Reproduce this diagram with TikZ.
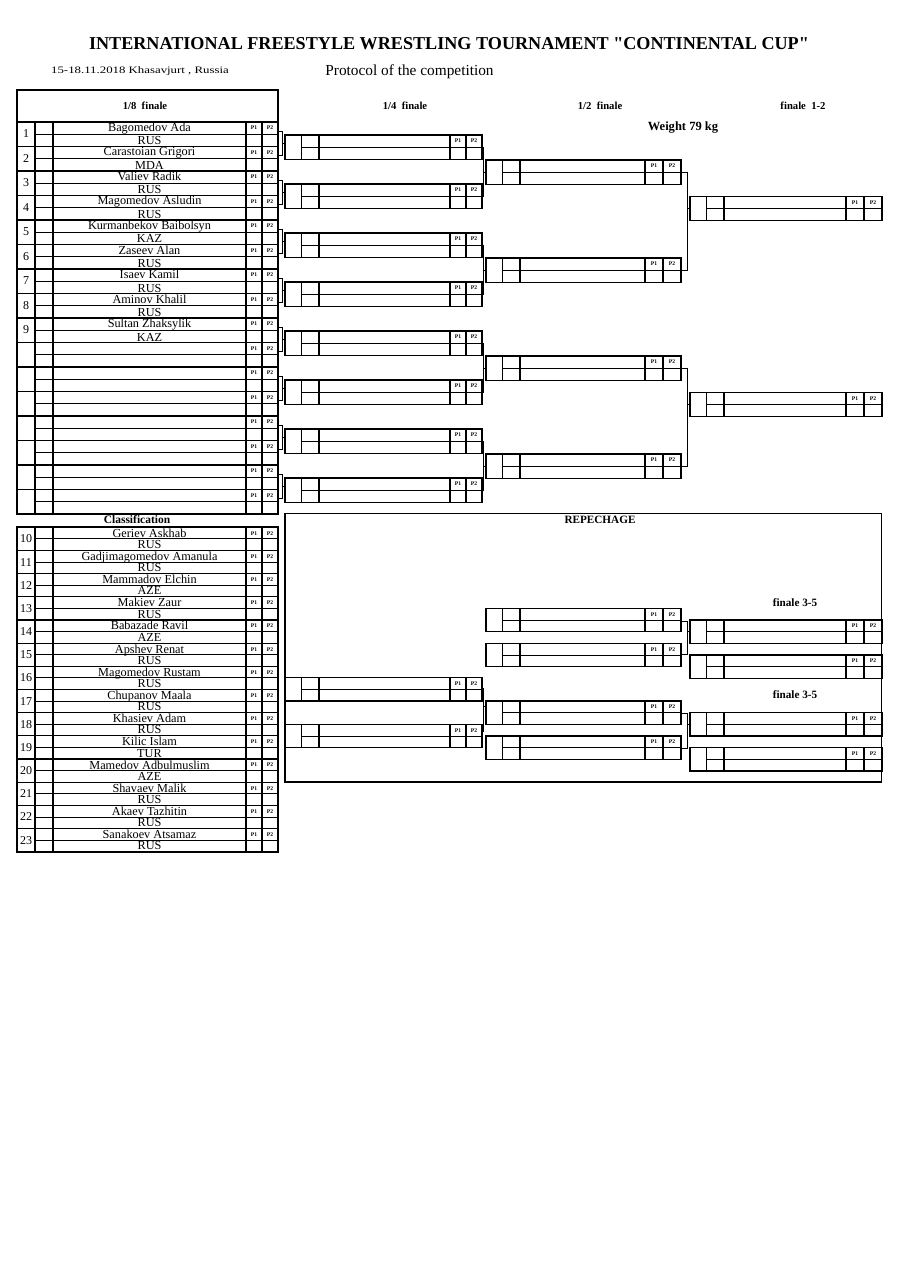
\documentclass[tikz,border=0pt]{standalone}
\usepackage{fontspec}
\setmainfont{Liberation Serif}
\newfontfamily\plainserif{Liberation Serif}
\usetikzlibrary{calc}
\newcommand\matchbx[6]{%
  \pgfmathsetmacro\mbA{#2+16.5}%
  \pgfmathsetmacro\mbB{#2+34}%
  \pgfmathsetmacro\mbC{#4-2*#6}%
  \pgfmathsetmacro\mbD{#4-#6}%
  \pgfmathsetmacro\mbY{#3+#5/2}%
  \pgfmathsetmacro\mbE{#3+#5}%
  \pgfmathsetmacro\mbPa{(\mbC+\mbD)/2}%
  \pgfmathsetmacro\mbPb{(\mbD+#4)/2}%
  \pgfmathsetmacro\mbPy{#3+6}%
  \draw[box] (#2,#3) rectangle (#4,\mbE);
  \draw[box] (\mbA,#3) -- (\mbA,\mbE) (\mbB,#3) -- (\mbB,\mbE) (\mbC,#3) -- (\mbC,\mbE) (\mbD,#3) -- (\mbD,\mbE);
  \draw[thinline] (\mbA,\mbY) -- (#4,\mbY);
  \node[plab] (#1-p1) at (\mbPa,\mbPy) {P1};
  \node[plab] (#1-p2) at (\mbPb,\mbPy) {P2};
  \coordinate (#1-in) at (#2,\mbY);
  \coordinate (#1-out) at (#4,\mbY);
}
\newcommand\brk[4]{%
  \coordinate (bx) at (#3,0);
  \draw[conn] (#1) -- (#1 -| bx) -- (#2 -| bx) -- (#2);
  \draw[conn] (#4 -| bx) -- (#4);
}
\begin{document}
\begin{tikzpicture}[x=0.75pt,y=-0.75pt,
  thinline/.style={line width=0.65pt},
  box/.style={line width=0.9pt},
  thickbox/.style={line width=1.4pt},
  conn/.style={line width=0.7pt},
  plab/.style={font=\fontsize{4.2}{5}\selectfont\bfseries, inner sep=0pt},
  nm/.style={font=\fontsize{9.2}{10}\selectfont, anchor=base, inner sep=0pt},
  num/.style={font=\fontsize{9}{10}\selectfont, inner sep=0pt},
  hd/.style={font=\fontsize{8}{9}\selectfont\bfseries, inner sep=0pt}]
\useasboundingbox (0,0) rectangle (905,1280);
\fill[white] (0,0) rectangle (905,1280);

% header texts
\node[inner sep=0pt] (title) at (449,44) {\plainserif\fontsize{13.6}{15}\selectfont\bfseries INTERNATIONAL FREESTYLE WRESTLING TOURNAMENT "CONTINENTAL CUP"};
\node[inner sep=0pt] (date) at (140,71) {\scalebox{1.3}[1]{\fontsize{7.4}{8}\selectfont 15-18.11.2018 Khasavjurt , Russia}};
\node[inner sep=0pt] (proto) at (409.5,72) {\fontsize{11.5}{13}\selectfont Protocol of the competition};
\node[hd] (h18) at (145,106) {1/8\ \ finale};
\node[hd] (h14) at (405,106) {1/4\ \ finale};
\node[hd] (h12) at (600,106) {1/2\ \ finale};
\node[hd] (hf) at (803,106) {finale\ \ 1-2};
\node[font=\fontsize{9.4}{10}\selectfont\bfseries, inner sep=0pt] (wt) at (683,128) {Weight 79 kg};

% 1/8 table
\draw[thickbox] (17,90) rectangle (278,514);
\draw[thickbox] (17,122) -- (278,122);
\foreach \x in {35,53,246,262} \draw[box] (\x,122) -- (\x,514);
\foreach \k in {1,...,16}{
  \pgfmathsetmacro\t{122+24.5*(\k-1)}
  \pgfmathsetmacro\tb{\t+24.5}
  \pgfmathsetmacro\tm{\t+12.25}
  \pgfmathsetmacro\tp{\t+6}
  \pgfmathsetmacro\tc{\t+9}
  \draw[box] (17,\tb) -- (278,\tb);
  \draw[thinline] (35,\tm) -- (278,\tm);
  \node[plab] (e\k-p1) at (254,\tp) {P1};
  \node[plab] (e\k-p2) at (270,\tp) {P2};
  \coordinate (e\k) at (278,\tc);
}
\foreach \k/\n/\c in {1/Bagomedov Ada/RUS,2/Carastoian Grigori/MDA,3/Valiev Radik/RUS,4/Magomedov Asludin/RUS,5/Kurmanbekov Baibolsyn/KAZ,6/Zaseev Alan/RUS,7/Isaev Kamil/RUS,8/Aminov Khalil/RUS,9/Sultan Zhaksylik/KAZ}{
  \pgfmathsetmacro\t{122+24.5*(\k-1)}
  \pgfmathsetmacro\ta{\t+9.5}
  \pgfmathsetmacro\tb{\t+23}
  \pgfmathsetmacro\tm{\t+11.8}
  \node[num] (e\k-no) at (26,\tm) {\k};
  \node[nm] (e\k-name) at (149.5,\ta) {\n};
  \node[nm] (e\k-nat) at (149.5,\tb) {\c};
}

% quarter finals
\foreach \i in {1,...,8}{
  \pgfmathsetmacro\q{135+49*(\i-1)}
  \matchbx{q\i}{285}{\q}{482}{24.5}{16}
  \pgfmathsetmacro\qj{\q+8}
  \coordinate (q\i-j) at (285,\qj);
  \pgfmathtruncatemacro\a{2*\i-1}
  \pgfmathtruncatemacro\b{2*\i}
  \brk{e\a}{e\b}{282}{q\i-j}
}
% semi finals
\foreach \j in {1,...,4}{
  \pgfmathsetmacro\s{160+98*(\j-1)}
  \matchbx{s\j}{486}{\s}{681}{24.5}{18}
  \pgfmathtruncatemacro\a{2*\j-1}
  \pgfmathtruncatemacro\b{2*\j}
  \brk{q\a-out}{q\b-out}{483.7}{s\j-in}
}
% finals
\matchbx{f1}{690}{196.5}{882}{24}{18}
\matchbx{f2}{690}{392.5}{882}{24}{18}
\brk{s1-out}{s2-out}{687.5}{f1-in}
\brk{s3-out}{s4-out}{687.5}{f2-in}

% classification
\node[hd, font=\fontsize{8.6}{9}\selectfont\bfseries] (cls) at (137,520) {Classification};
\draw[thickbox] (17,527.3) rectangle (278,851.7);
\foreach \x in {35,53,246,262} \draw[box] (\x,527.3) -- (\x,851.7);
\foreach \k/\n/\c in {10/Geriev Askhab/RUS,11/Gadjimagomedov Amanula/RUS,12/Mammadov Elchin/AZE,13/Makiev Zaur/RUS,14/Babazade Ravil/AZE,15/Apshev Renat/RUS,16/Magomedov Rustam/RUS,17/Chupanov Maala/RUS,18/Khasiev Adam/RUS,19/Kilic Islam/TUR,20/Mamedov Adbulmuslim/AZE,21/Shavaev Malik/RUS,22/Akaev Tazhitin/RUS,23/Sanakoev Atsamaz/RUS}{
  \pgfmathsetmacro\t{527.3+23.17*(\k-10)}
  \pgfmathsetmacro\tb{\t+23.17}
  \pgfmathsetmacro\tm{\t+11.6}
  \pgfmathsetmacro\tp{\t+6}
  \pgfmathsetmacro\ta{\t+10}
  \pgfmathsetmacro\tc{\t+21.3}
  \draw[box] (17,\tb) -- (278,\tb);
  \draw[thinline] (35,\tm) -- (278,\tm);
  \node[plab] (c\k-p1) at (254,\tp) {P1};
  \node[plab] (c\k-p2) at (270,\tp) {P2};
  \node[num] (c\k-no) at (26,\tm) {\k};
  \node[nm] (c\k-name) at (149.5,\ta) {\n};
  \node[nm] (c\k-nat) at (149.5,\tc) {\c};
}

% repechage
\draw[box] (285,513.3) rectangle (881.5,782);
\node[hd, font=\fontsize{8.4}{9}\selectfont\bfseries] (rep) at (600,520) {REPECHAGE};
\node[hd, font=\fontsize{8.4}{9}\selectfont\bfseries] (f35a) at (795,602.5) {finale 3-5};
\node[hd, font=\fontsize{8.4}{9}\selectfont\bfseries] (f35b) at (795,695) {finale 3-5};
\matchbx{rl1}{285}{677.7}{482}{23.3}{16}
\matchbx{rl2}{285}{724.3}{482}{23.3}{16}
\matchbx{rm1}{486}{608.3}{681}{23.3}{18}
\matchbx{rm2}{486}{643.3}{681}{23.3}{18}
\matchbx{rm3}{486}{701}{681}{23.3}{18}
\matchbx{rm4}{486}{736}{681}{23.3}{18}
\matchbx{rr1}{690}{620}{882}{23.3}{18}
\matchbx{rr2}{690}{655}{882}{23.3}{18}
\matchbx{rr3}{690}{712.7}{882}{23.3}{18}
\matchbx{rr4}{690}{747.7}{882}{23.3}{18}
\coordinate (rl1-o) at (482,688.3);
\coordinate (rl2-o) at (482,731.7);
\coordinate (rm3-j) at (486,706.7);
\brk{rl1-o}{rl2-o}{483}{rm3-j}
\coordinate (rm1-o) at (681,621.7);
\brk{rm1-o}{rm2-out}{687.5}{rr1-in}
\coordinate (rm3-o) at (681,713);
\coordinate (rm4-o) at (681,748);
\brk{rm3-o}{rm4-o}{687.5}{rr3-in}
\end{tikzpicture}
\end{document}
